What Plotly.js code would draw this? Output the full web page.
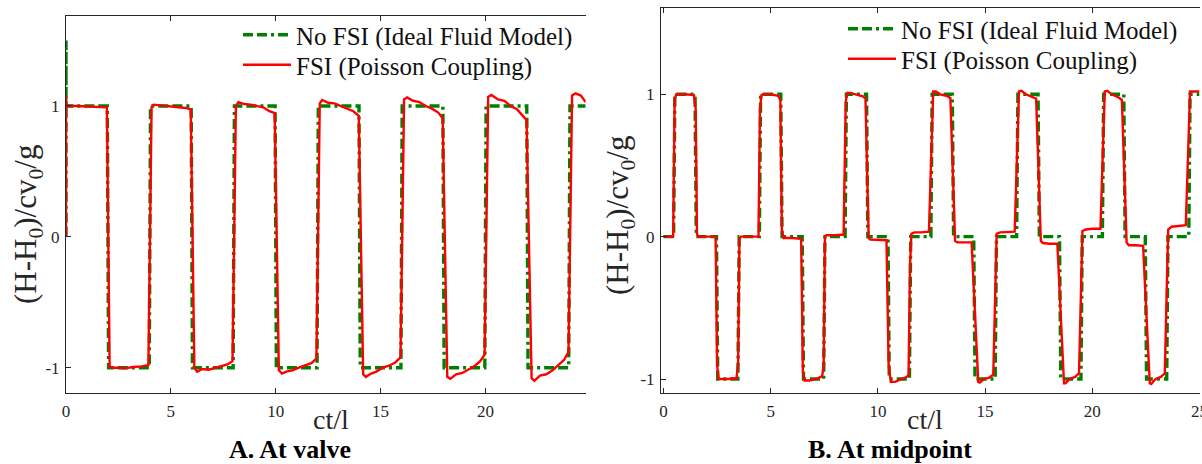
<!DOCTYPE html>
<html>
<head>
<meta charset="utf-8">
<script src="https://cdn.plot.ly/plotly-3.0.1.min.js"></script>
<style>html,body{margin:0;padding:0;background:#fff;}#chart{width:1202px;height:464px;}</style>
</head>
<body>
<div id="chart"></div>
<script>
// ---- Data: A. At valve ----
const valveIdealT = [0, 0, 0, 1.97, 2.03, 3.97, 4.03, 5.97, 6.03, 7.97, 8.03, 9.97, 10.03, 11.97, 12.03, 13.97, 14.03, 15.97, 16.03, 17.97, 18.03, 19.97, 20.03, 21.97, 22.03, 23.97, 24.03, 24.78];
const valveIdealH = [0, 1.5, 1, 1, -1, -1, 1, 1, -1, -1, 1, 1, -1, -1, 1, 1, -1, -1, 1, 1, -1, -1, 1, 1, -1, -1, 1, 1];

const valveFsiT = [0, 0, 0.02, 0.5, 1.0, 1.5, 1.95,
  2.08, 2.2, 2.5, 2.8, 3.2, 3.6, 3.93,
  4.08, 4.18, 4.5, 4.9, 5.3, 5.7, 5.95,
  6.12, 6.25, 6.5, 6.8, 7.1, 7.4, 7.7, 7.94,
  8.1, 8.22, 8.5, 8.8, 9.1, 9.4, 9.7, 9.95,
  10.15, 10.3, 10.5, 10.8, 11.1, 11.4, 11.7, 11.94,
  12.1, 12.22, 12.5, 12.8, 13.1, 13.4, 13.7, 13.96,
  14.17, 14.3, 14.55, 14.8, 15.1, 15.4, 15.7, 15.95,
  16.12, 16.26, 16.55, 16.85, 17.15, 17.45, 17.75, 17.96,
  18.18, 18.32, 18.6, 18.9, 19.2, 19.5, 19.75, 19.96,
  20.13, 20.28, 20.6, 20.9, 21.2, 21.5, 21.75, 21.96,
  22.2, 22.33, 22.6, 22.9, 23.2, 23.5, 23.75, 23.96,
  24.13, 24.3, 24.55, 24.78];
const valveFsiH = [0, 1.07, 1.0, 1.0, 0.998, 0.995, 0.99,
  -0.99, -1.0, -1.0, -1.005, -0.995, -0.99, -0.98,
  0.99, 1.01, 1.005, 1.0, 0.995, 0.985, 0.975,
  -1.0, -1.03, -1.01, -1.015, -1.0, -0.99, -0.975, -0.95,
  1.0, 1.03, 1.015, 1.01, 1.0, 0.99, 0.96, 0.945,
  -1.02, -1.045, -1.03, -1.02, -1.0, -0.98, -0.965, -0.93,
  1.02, 1.046, 1.025, 1.02, 1.0, 0.985, 0.96, 0.925,
  -1.05, -1.07, -1.045, -1.03, -1.0, -0.985, -0.96, -0.92,
  1.05, 1.066, 1.04, 1.03, 1.0, 0.98, 0.95, 0.906,
  -1.07, -1.085, -1.05, -1.04, -1.01, -0.985, -0.95, -0.90,
  1.07, 1.084, 1.05, 1.04, 1.0, 0.975, 0.93, 0.893,
  -1.08, -1.1, -1.06, -1.05, -1.02, -0.98, -0.94, -0.88,
  1.08, 1.097, 1.08, 1.03];

// ---- Data: B. At midpoint ----
const midIdealT = [0, 0.47, 0.53, 1.47, 1.53, 2.47, 2.53, 3.47, 3.53,
  4.47, 4.53, 5.47, 5.53, 6.47, 6.53, 7.47, 7.53,
  8.47, 8.53, 9.47, 9.53, 10.47, 10.53, 11.47, 11.53,
  12.47, 12.53, 13.47, 13.53, 14.47, 14.53, 15.47, 15.53,
  16.47, 16.53, 17.47, 17.53, 18.47, 18.53, 19.47, 19.53,
  20.47, 20.53, 21.47, 21.53, 22.47, 22.53, 23.47, 23.53,
  24.5, 24.56, 25];
const midIdealH = [0, 0, 1, 1, 0, 0, -1, -1, 0,
  0, 1, 1, 0, 0, -1, -1, 0,
  0, 1, 1, 0, 0, -1, -1, 0,
  0, 1, 1, 0, 0, -1, -1, 0,
  0, 1, 1, 0, 0, -1, -1, 0,
  0, 1, 1, 0, 0, -1, -1, 0,
  0, 1, 1];

const midFsiT = [0, 0.45, 0.52, 0.6, 1.0, 1.42, 1.5, 1.56, 1.62, 2.0, 2.43, 2.5, 2.57, 3.0, 3.4, 3.48, 3.54, 3.6, 4.0,
  4.43, 4.5, 4.57, 4.65, 5.0, 5.35, 5.45, 5.52, 5.6, 6.0, 6.42, 6.5, 6.58, 6.8, 7.2, 7.4, 7.47, 7.53, 7.6, 8.0,
  8.4, 8.5, 8.57, 8.7, 9.0, 9.3, 9.42, 9.5, 9.57, 9.65, 10.0, 10.4, 10.5, 10.6, 10.8, 11.1, 11.35, 11.43, 11.5, 11.56, 11.7, 12.0,
  12.38, 12.58, 12.7, 12.9, 13.2, 13.38, 13.6, 13.7, 14.0, 14.37, 14.68, 14.75, 14.95, 15.2, 15.38, 15.54, 15.7, 16.0,
  16.38, 16.58, 16.7, 16.9, 17.2, 17.38, 17.6, 17.7, 18.0, 18.37, 18.68, 18.75, 18.95, 19.2, 19.38, 19.54, 19.7, 20.0,
  20.38, 20.58, 20.7, 20.9, 21.2, 21.38, 21.6, 21.7, 22.0, 22.37, 22.68, 22.75, 22.95, 23.2, 23.38, 23.54, 23.7, 24.0,
  24.36, 24.56, 25];
const midFsiH = [0, 0, 0.97, 1.0, 1.0, 0.995, 0.9, 0.02, 0.0, 0.0, 0.0, -0.9, -1.0, -1.0, -0.995, -0.9, -0.02, 0.0, 0.0,
  0.0, 0.9, 0.995, 1.0, 1.0, 0.99, 0.96, 0.05, -0.01, -0.01, -0.015, -0.95, -1.01, -1.01, -0.995, -0.98, -0.9, 0.0, 0.01, 0.01,
  0.015, 0.95, 1.01, 1.01, 1.0, 0.985, 0.97, 0.3, -0.01, -0.02, -0.02, -0.025, -0.9, -1.02, -1.02, -1.0, -0.985, -0.97, -0.2, 0.02, 0.03, 0.03,
  0.035, 1.02, 1.02, 1.0, 0.99, 0.975, -0.03, -0.04, -0.04, -0.04, -1.02, -1.025, -1.0, -0.99, -0.97, 0.02, 0.03, 0.03,
  0.035, 1.02, 1.025, 1.0, 0.98, 0.97, -0.03, -0.045, -0.05, -0.05, -1.03, -1.03, -1.0, -0.985, -0.96, 0.04, 0.05, 0.055,
  0.055, 1.02, 1.025, 1.0, 0.98, 0.96, -0.04, -0.06, -0.06, -0.065, -1.03, -1.035, -1.0, -0.985, -0.96, 0.05, 0.07, 0.075,
  0.08, 1.02, 1.02];

const xTicks = [0, 5, 10, 15, 20, 25];
const yTicks = [-1, 0, 1];
const idealName = 'No FSI (Ideal Fluid Model)';
const fsiName = 'FSI (Poisson Coupling)';
const yTitle = '(H-H<sub>0</sub>)/cv<sub>0</sub>/g';
const xTitle = 'ct/l';
const captionA = 'A. At valve';
const captionB = 'B. At midpoint';

// ---- Build ----
const W = 1202, H = 464;
const px = v => v / W;
const py = v => 1 - v / H;
const serif = 'Liberation Serif, Times New Roman, serif';
const ink = '#262626';
const green = {color: '#008000', width: 3.4, dash: '10px,4px,10px,4px,3px,4px'};
const red = {color: '#ff0000', width: 2.4};

const traces = [
  {x: valveIdealT, y: valveIdealH, xaxis: 'x', yaxis: 'y', mode: 'lines', line: green, name: idealName, legend: 'legend'},
  {x: valveFsiT, y: valveFsiH, xaxis: 'x', yaxis: 'y', mode: 'lines', line: red, name: fsiName, legend: 'legend2'},
  {x: midIdealT, y: midIdealH, xaxis: 'x2', yaxis: 'y2', mode: 'lines', line: green, name: idealName, legend: 'legend3'},
  {x: midFsiT, y: midFsiH, xaxis: 'x2', yaxis: 'y2', mode: 'lines', line: red, name: fsiName, legend: 'legend4'}
];

const xBase = {
  tickvals: xTicks, ticktext: xTicks.map(String), ticks: 'inside', ticklen: 5, tickwidth: 1, tickcolor: ink,
  showline: true, linecolor: ink, linewidth: 1, mirror: 'ticks', showgrid: false, zeroline: false,
  tickfont: {family: serif, size: 17, color: ink}, fixedrange: true, ticklabeloverflow: 'allow', ticklabelstandoff: 3
};
const yBase = {
  tickvals: yTicks, ticktext: yTicks.map(String), ticks: 'inside', ticklen: 5, tickwidth: 1, tickcolor: ink,
  showline: true, linecolor: ink, linewidth: 1, mirror: false, showgrid: false, zeroline: false,
  tickfont: {family: serif, size: 17, color: ink}, fixedrange: true, ticklabelstandoff: 2
};

const legFont = {family: serif, size: 25, color: '#111'};
function leg(xPix, yPix) {
  return {x: px(xPix), y: py(yPix), xanchor: 'left', yanchor: 'middle', bgcolor: 'rgba(0,0,0,0)',
    borderwidth: 0, font: legFont, itemwidth: 48, itemclick: false, itemdoubleclick: false};
}

const layout = {
  width: W, height: H, margin: {l: 0, r: 0, t: 0, b: 0},
  paper_bgcolor: '#fff', plot_bgcolor: '#fff',
  xaxis: Object.assign({}, xBase, {domain: [px(66), px(585.7)], range: [0, 24.78], anchor: 'y'}),
  yaxis: Object.assign({}, yBase, {domain: [py(393), py(15.7)], range: [-1.1933, 1.690], anchor: 'x'}),
  xaxis2: Object.assign({}, xBase, {domain: [px(661), px(1199.5)], range: [-0.117, 25], anchor: 'y2'}),
  yaxis2: Object.assign({}, yBase, {domain: [py(392.7), py(8.3)], range: [-1.0962, 1.6041], anchor: 'x2'}),
  showlegend: true,
  legend: leg(238, 35),
  legend2: leg(238, 65),
  legend3: leg(843, 29),
  legend4: leg(843, 59),
  annotations: [
    {text: yTitle, xref: 'paper', yref: 'paper', x: px(28), y: py(225), textangle: -90, showarrow: false,
      font: {family: serif, size: 31, color: ink}, xanchor: 'center', yanchor: 'middle'},
    {text: yTitle, xref: 'paper', yref: 'paper', x: px(620), y: py(216), textangle: -90, showarrow: false,
      font: {family: serif, size: 31, color: ink}, xanchor: 'center', yanchor: 'middle'},
    {text: xTitle, xref: 'paper', yref: 'paper', x: px(331), y: py(419), showarrow: false,
      font: {family: serif, size: 28, color: ink}, xanchor: 'center', yanchor: 'middle'},
    {text: xTitle, xref: 'paper', yref: 'paper', x: px(925), y: py(419), showarrow: false,
      font: {family: serif, size: 28, color: ink}, xanchor: 'center', yanchor: 'middle'},
    {text: '<b>' + captionA + '</b>', xref: 'paper', yref: 'paper', x: px(290), y: py(449), showarrow: false,
      font: {family: serif, size: 26, color: '#000'}, xanchor: 'center', yanchor: 'middle'},
    {text: '<b>' + captionB + '</b>', xref: 'paper', yref: 'paper', x: px(890), y: py(449), showarrow: false,
      font: {family: serif, size: 26, color: '#000'}, xanchor: 'center', yanchor: 'middle'}
  ]
};

Plotly.newPlot('chart', traces, layout, {displayModeBar: false, staticPlot: true});
</script>
</body>
</html>
